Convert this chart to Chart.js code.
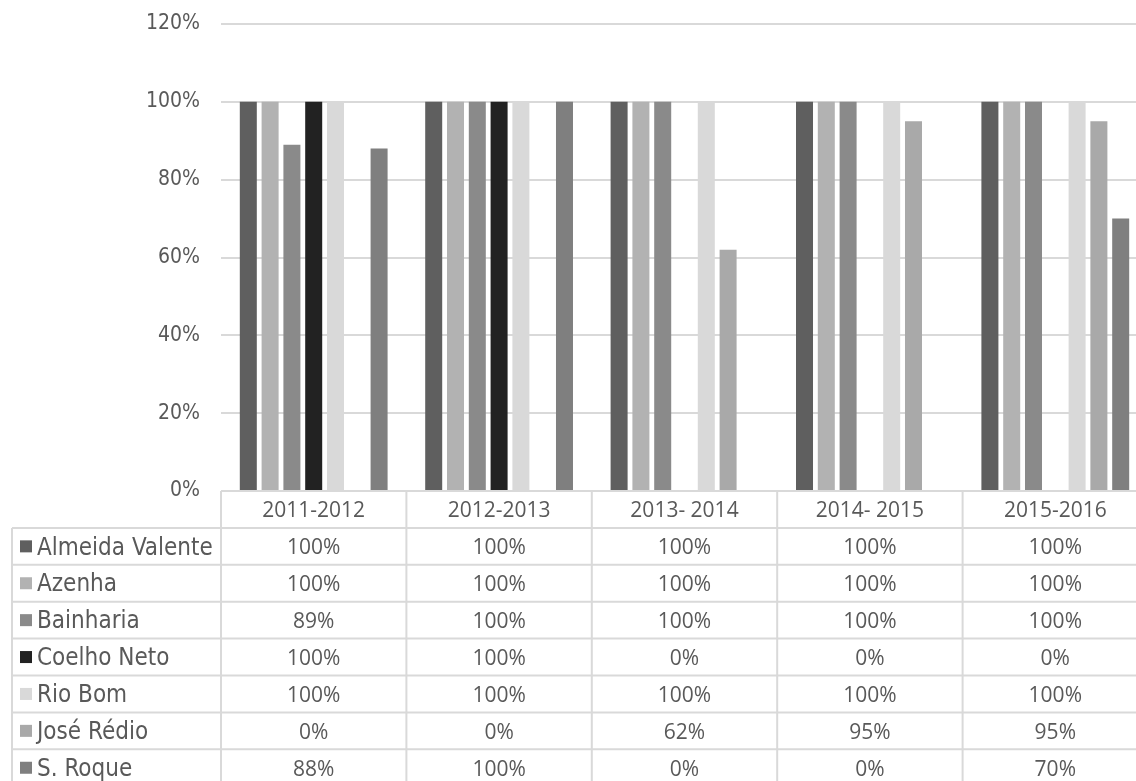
<!DOCTYPE html>
<html>
<head>
<meta charset="utf-8">
<script src="https://cdn.jsdelivr.net/npm/chart.js@4"></script>
<style>
  html, body { margin: 0; padding: 0; background: #fff; overflow: hidden; }
  #wrap { width: 1148px; height: 781px; }
</style>
</head>
<body>
<div id="wrap"><canvas id="chart" width="1148" height="781"></canvas></div>
<script>
document.addEventListener('DOMContentLoaded', () => {

  const categories = ['2011-2012', '2012-2013', '2013- 2014', '2014- 2015', '2015-2016'];
  const seriesNames = ['Almeida Valente', 'Azenha', 'Bainharia', 'Coelho Neto', 'Rio Bom', 'José Rédio', 'S. Roque'];
  const almeidaValente = [100, 100, 100, 100, 100];
  const azenha = [100, 100, 100, 100, 100];
  const bainharia = [89, 100, 100, 100, 100];
  const coelhoNeto = [100, 100, 0, 0, 0];
  const rioBom = [100, 100, 100, 100, 100];
  const joseRedio = [0, 0, 62, 95, 95];
  const sRoque = [88, 100, 0, 0, 70];
  const yTicks = [0, 20, 40, 60, 80, 100, 120];

  const seriesValues = [almeidaValente, azenha, bainharia, coelhoNeto, rioBom, joseRedio, sRoque];
  const colors = ['#5f5f5f', '#b2b2b2', '#8a8a8a', '#222222', '#d9d9d9', '#a9a9a9', '#7f7f7f'];

  const TEXT = '#595959';
  const LINE = '#d9d9d9';
  const LABEL_FONT = '"DejaVu Sans Condensed", "DejaVu Sans", sans-serif';
  const VALUE_FONT = '"Open Sans", sans-serif';
  const ROW_H = 36.9;
  const TABLE_LEFT = 12;

  // data table drawn under the plot, aligned with the x scale
  const dataTable = {
    id: 'dataTable',
    afterDraw(chart) {
      const c = chart.ctx;
      const xs = chart.scales.x;
      const area = chart.chartArea;
      const colW = area.width / categories.length;
      const top = area.bottom;
      const bottom = top + ROW_H * (seriesNames.length + 1);
      c.save();
      c.strokeStyle = LINE;
      c.lineWidth = 2;

      // horizontal lines
      c.beginPath();
      c.moveTo(area.left, top); c.lineTo(area.right, top);
      for (let r = 1; r <= seriesNames.length + 1; r++) {
        const y = top + ROW_H * r;
        c.moveTo(TABLE_LEFT, y); c.lineTo(area.right, y);
      }
      // vertical lines
      c.moveTo(TABLE_LEFT, top + ROW_H); c.lineTo(TABLE_LEFT, bottom);
      for (let i = 0; i <= categories.length; i++) {
        const x = area.left + colW * i;
        c.moveTo(x, top); c.lineTo(x, bottom);
      }
      c.stroke();

      c.fillStyle = TEXT;
      c.textBaseline = 'middle';
      c.textAlign = 'center';
      c.font = '21px ' + VALUE_FONT;
      categories.forEach((cat, i) => {
        c.fillText(cat, xs.getPixelForValue(i), top + ROW_H / 2 + 2);
      });

      seriesNames.forEach((name, r) => {
        const cy = top + ROW_H * (r + 1.5);
        c.fillStyle = colors[r];
        c.fillRect(20, cy - 6, 12, 12);
        c.fillStyle = TEXT;
        c.textAlign = 'left';
        c.font = '24px ' + LABEL_FONT;
        c.fillText(name, 37, cy + 2);
        c.textAlign = 'center';
        c.font = '21px ' + VALUE_FONT;
        seriesValues[r].forEach((v, i) => {
          c.fillText(v + '%', xs.getPixelForValue(i), cy + 2);
        });
      });
      c.restore();
    }
  };

  const ctx = document.getElementById('chart').getContext('2d');
  new Chart(ctx, {
    type: 'bar',
    data: {
      labels: categories,
      datasets: seriesNames.map((name, i) => ({
        label: name,
        data: seriesValues[i],
        backgroundColor: colors[i],
        borderWidth: 0,
        categoryPercentage: 0.823,
        barPercentage: 0.78
      }))
    },
    options: {
      responsive: false,
      animation: false,
      layout: { padding: { left: 0, right: 0, top: 24, bottom: 290 } },
      plugins: {
        legend: { display: false },
        tooltip: { enabled: false }
      },
      scales: {
        x: { display: false },
        y: {
          min: 0,
          max: 120,
          afterBuildTicks: scale => { scale.ticks = yTicks.map(v => ({ value: v })); },
          afterFit: scale => {
            scale.width = 221;
            scale.paddingTop = 0;
            scale.paddingBottom = 0;
          },
          border: { display: false },
          grid: { color: LINE, lineWidth: 2, drawTicks: false },
          ticks: {
            padding: 21,
            color: TEXT,
            font: { family: LABEL_FONT, size: 21 },
            callback: v => v + '%'
          }
        }
      }
    },
    plugins: [dataTable]
  });

});
</script>
</body>
</html>
